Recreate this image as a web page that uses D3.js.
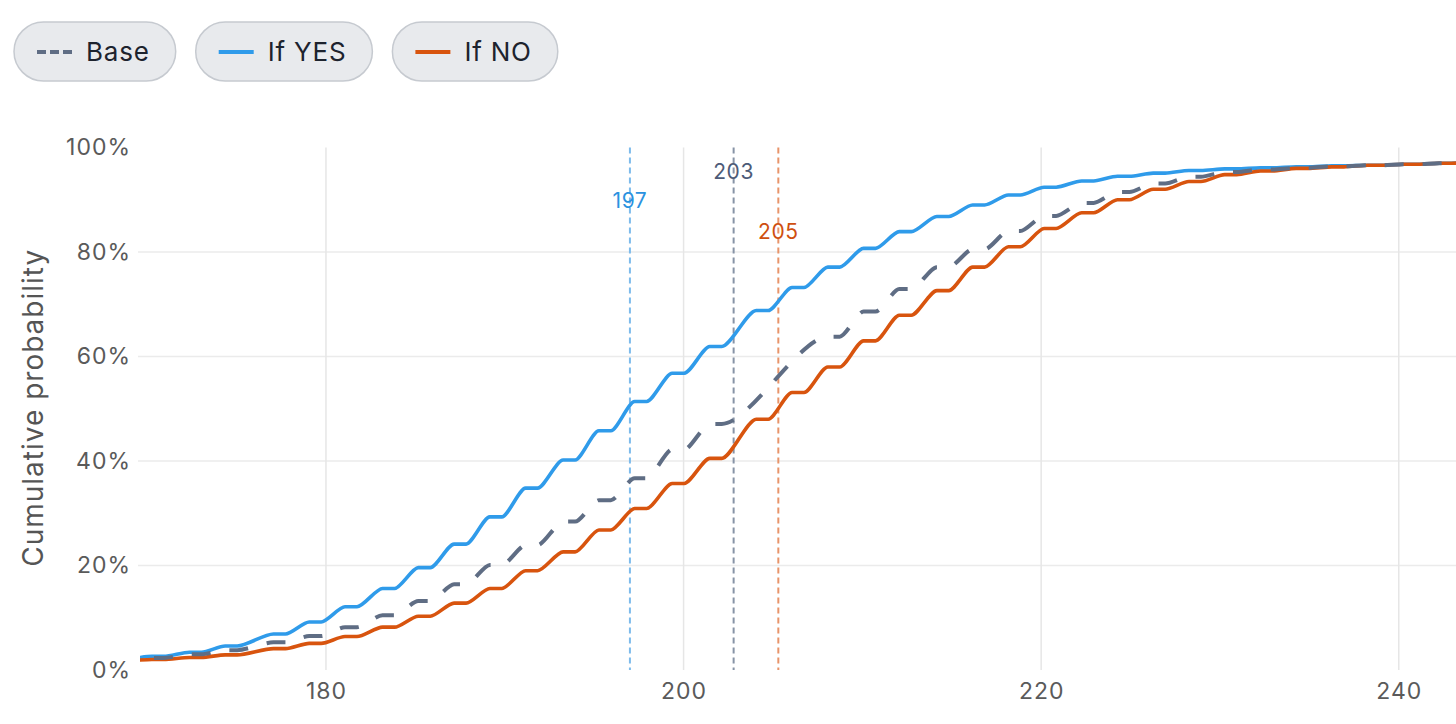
<!DOCTYPE html>
<html>
<head>
<meta charset="utf-8">
<script src="https://cdn.jsdelivr.net/npm/d3@7/dist/d3.min.js"></script>
<style>
  html, body { margin: 0; padding: 0; background: #ffffff; }
  svg { display: block; font-family: "Inter", "Liberation Sans", sans-serif; }
</style>
</head>
<body>
<svg id="chart" width="1456" height="724"></svg>
<script>
// ---------------- data ----------------
const xTicks = [180, 200, 220, 240];
const yTicks = [0, 0.2, 0.4, 0.6, 0.8, 1.0];
const gridYTicks = [0.2, 0.4, 0.6, 0.8];

const seriesNames = ["Base", "If YES", "If NO"];

// x positions of the CDF plateaus (If YES / If NO)
const steps = [168.6, 170.6, 172.7, 174.7, 177.4, 179.4, 181.4, 183.5, 185.5, 187.5,
               189.5, 191.5, 193.6, 195.6, 197.6, 199.7, 201.8, 204.4, 206.4, 208.4,
               210.4, 212.4, 214.5, 216.5, 218.5, 220.5, 222.6, 224.6, 226.6, 228.6,
               230.6, 232.6, 234.6, 236.6, 238.6, 240.6, 242.6, 244.6];
// x positions of the Base plateaus (no visible plateaus between 202 and 208)
const baseSteps = [168.6, 170.6, 172.7, 174.7, 177.4, 179.4, 181.4, 183.5, 185.5, 187.5,
                   189.5, 191.5, 193.6, 195.6, 197.6, 199.7, 201.8, 208.4,
                   210.4, 212.4, 214.5, 216.5, 218.5, 220.5, 222.6, 224.6, 226.6, 228.6,
                   230.6, 232.6, 234.6, 236.6, 238.6, 240.6, 242.6, 244.6];

// cumulative probability (%) at each plateau
const baseCdf = [1.9, 2.3, 3.0, 3.8, 5.3, 6.5, 8.2, 10.5, 13.2, 16.4,
                 20.1, 23.9, 28.4, 32.5, 36.7, 42.2, 47.1, 63.8,
                 68.6, 72.9, 77.1, 80.5, 84.0, 86.9, 89.4, 91.5, 93.1, 94.4,
                 95.3, 95.8, 96.1, 96.4, 96.6, 96.8, 97.0, 97.1];
const yesCdf  = [2.2, 2.6, 3.4, 4.6, 6.9, 9.2, 12.1, 15.6, 19.6, 24.1,
                 29.3, 34.8, 40.2, 45.8, 51.4, 56.8, 61.9, 68.8, 73.2, 77.1,
                 80.7, 83.9, 86.8, 89.0, 90.9, 92.4, 93.6, 94.5, 95.1, 95.6,
                 95.9, 96.1, 96.3, 96.5, 96.6, 96.8, 97.0, 97.1];
const noCdf   = [1.8, 2.0, 2.4, 2.9, 4.1, 5.1, 6.4, 8.2, 10.3, 12.8,
                 15.6, 19.0, 22.6, 26.8, 30.9, 35.7, 40.5, 48.0, 53.1, 58.0,
                 63.0, 67.9, 72.6, 77.1, 81.0, 84.5, 87.5, 90.0, 92.0, 93.5,
                 94.8, 95.5, 96.0, 96.3, 96.6, 96.8, 97.0, 97.1];

// medians (50% crossing) per series: Base, If YES, If NO
const medians = [202.8, 197.0, 205.3];

// ---------------- styles / layout ----------------
const colors = { "Base": "#5f6d84", "If YES": "#2f9bea", "If NO": "#d8540e" };
const refColors = { "Base": "#8793a6", "If YES": "#7dbbec", "If NO": "#e8946a" };
const labelColors = { "Base": "#4d5b78", "If YES": "#2b92e0", "If NO": "#cf4f10" };
const labelOffsets = { "Base": 24, "If YES": 53, "If NO": 84 }; // px below plot top

const W = 1456, H = 724;
const margin = { left: 140, right: 0, top: 147.5, bottom: 54 };

const svg = d3.select("#chart");

const x = d3.scaleLinear().domain([169.6, 243.2]).range([margin.left, W - margin.right]);
const y = d3.scaleLinear().domain([0, 1]).range([H - margin.bottom, margin.top]);

svg.append("defs").append("clipPath").attr("id", "plotclip")
  .append("rect")
  .attr("x", margin.left).attr("y", margin.top - 20)
  .attr("width", W - margin.left - margin.right)
  .attr("height", H - margin.bottom - margin.top + 22);

// ---------------- grid ----------------
const grid = svg.append("g");
grid.selectAll("line.h").data(gridYTicks).join("line")
  .attr("x1", margin.left - 2).attr("x2", W)
  .attr("y1", d => y(d)).attr("y2", d => y(d))
  .attr("stroke", "#ebebeb").attr("stroke-width", 1.5);
grid.selectAll("line.v").data(xTicks).join("line")
  .attr("x1", d => x(d)).attr("x2", d => x(d))
  .attr("y1", y(1)).attr("y2", y(0))
  .attr("stroke", "#e6e6e6").attr("stroke-width", 1.5);

// ---------------- axes ----------------
const yAxis = d3.axisLeft(y).tickValues(yTicks).tickFormat(d3.format(".0%")).tickSize(0).tickPadding(9);
const gy = svg.append("g").attr("transform", `translate(${margin.left},0)`).call(yAxis);
gy.select(".domain").remove();
gy.selectAll("text").attr("font-size", 23).attr("fill", "#5a5a5a")
  .attr("font-family", "Inter, sans-serif").style("letter-spacing", "1px");

const xAxis = d3.axisBottom(x).tickValues(xTicks).tickFormat(d3.format("d")).tickSize(0).tickPadding(13);
const gx = svg.append("g").attr("transform", `translate(0,${y(0)})`).call(xAxis);
gx.select(".domain").remove();
gx.selectAll("text").attr("font-size", 23).attr("fill", "#5a5a5a")
  .attr("font-family", "Inter, sans-serif").style("letter-spacing", "1px");

svg.append("text")
  .attr("transform", `translate(43,${(y(0) + y(1)) / 2 - 1}) rotate(-90)`)
  .attr("text-anchor", "middle")
  .attr("font-size", 28).attr("fill", "#555555")
  .style("letter-spacing", "1px")
  .text("Cumulative probability");

// ---------------- reference (median) lines ----------------
const refG = svg.append("g");
seriesNames.forEach((name, i) => {
  refG.append("line")
    .attr("x1", x(medians[i])).attr("x2", x(medians[i]))
    .attr("y1", y(1)).attr("y2", y(0))
    .attr("stroke", refColors[name]).attr("stroke-width", 2)
    .attr("stroke-dasharray", "6,4");
  refG.append("text")
    .attr("x", x(medians[i])).attr("y", y(1) + labelOffsets[name])
    .attr("dy", "0.35em")
    .attr("text-anchor", "middle")
    .attr("font-size", 21).attr("fill", labelColors[name])
    .style("letter-spacing", "0.6px")
    .text(d3.format(".0f")(medians[i]));
});

// ---------------- stepped CDF curve ----------------
function plateauCurve(context) {
  let pts;
  return {
    areaStart() {}, areaEnd() {},
    lineStart() { pts = []; },
    point(px, py) { pts.push([+px, +py]); },
    lineEnd() {
      const h = 6, k = 0.26;
      pts.forEach((p, i) => {
        if (i === 0) context.moveTo(p[0] - h, p[1]);
        context.lineTo(p[0] + h, p[1]);
        const n = pts[i + 1];
        if (n) {
          const a = p[0] + h, b = n[0] - h, w = b - a;
          context.bezierCurveTo(a + k * w, p[1], b - k * w, n[1], b, n[1]);
        }
      });
    }
  };
}

const lineFor = (xs) => d3.line()
  .x((d, i) => x(xs[i]))
  .y(d => y(d / 100))
  .curve(plateauCurve);

const plot = svg.append("g").attr("clip-path", "url(#plotclip)");
plot.append("path").datum(yesCdf)
  .attr("d", lineFor(steps)).attr("fill", "none")
  .attr("stroke", colors["If YES"]).attr("stroke-width", 3.6)
  .attr("stroke-linejoin", "round");
plot.append("path").datum(noCdf)
  .attr("d", lineFor(steps)).attr("fill", "none")
  .attr("stroke", colors["If NO"]).attr("stroke-width", 3.6)
  .attr("stroke-linejoin", "round");
plot.append("path").datum(baseCdf)
  .attr("d", lineFor(baseSteps)).attr("fill", "none")
  .attr("stroke", colors["Base"]).attr("stroke-width", 4)
  .attr("stroke-dasharray", "19,19");

// ---------------- legend pills ----------------
const legend = svg.append("g");
let lx = 14;
seriesNames.forEach((name) => {
  const g = legend.append("g").attr("transform", `translate(${lx},22)`);
  const rect = g.append("rect").attr("height", 59).attr("rx", 29.5).attr("ry", 29.5)
    .attr("fill", "#e8eaed").attr("stroke", "#c6cad0").attr("stroke-width", 1.5);
  g.append("line").attr("x1", 23).attr("x2", 58).attr("y1", 30).attr("y2", 30)
    .attr("stroke", colors[name]).attr("stroke-width", 4)
    .attr("stroke-dasharray", name === "Base" ? "9,4" : null);
  const t = g.append("text").attr("x", 72).attr("y", 30).attr("dy", "0.36em")
    .attr("font-size", 26).attr("fill", "#1d232e").style("letter-spacing", "0.8px")
    .text(name);
  const tw = t.node().getComputedTextLength();
  const w = 72 + tw + 26;
  rect.attr("width", w);
  lx += w + 20;
});
</script>
</body>
</html>
